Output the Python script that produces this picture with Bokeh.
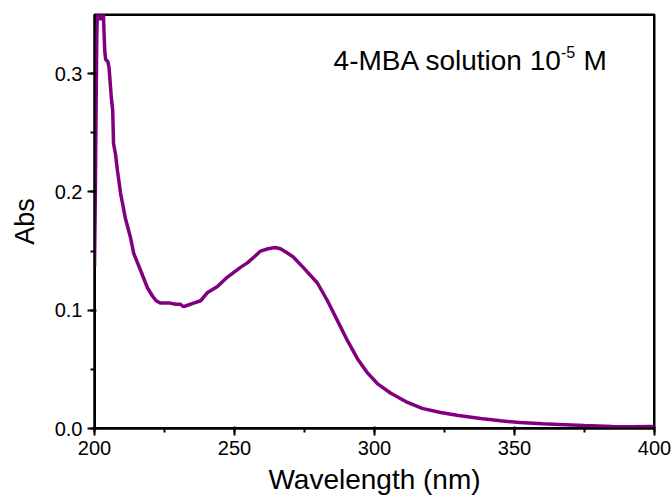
from bokeh.plotting import figure
from bokeh.models import SingleIntervalTicker, PrintfTickFormatter, Label, Range1d
from bokeh.embed import file_html
from bokeh.resources import INLINE

# ---- data ----
wavelength = [200.0, 200.3, 200.8, 201.2, 201.7, 202.1, 202.5, 203.0, 203.4, 203.7,
              204.0, 204.8, 205.2, 206.0, 206.5, 206.8, 207.5, 208.2, 209.3, 211.0,
              212.9, 214.0, 216.4, 218.9, 220.7, 222.0, 223.6, 225.0, 227.0, 229.0,
              230.7, 231.8, 233.0, 235.4, 237.9, 240.4, 243.9, 247.5, 252.0, 254.6,
              257.0, 259.3, 262.0, 264.5, 266.4, 268.5, 271.0, 274.6, 279.6, 283.2,
              286.8, 290.4, 293.9, 297.5, 301.0, 305.7, 311.8, 317.0, 323.6, 330.0,
              337.9, 345.0, 352.0, 360.0, 366.0, 375.0, 385.0, 392.0, 398.6, 400.0]
absorbance = [0.137, 0.200, 0.330, 0.370, 0.380, 0.345, 0.370, 0.365, 0.335, 0.318,
              0.312, 0.310, 0.305, 0.280, 0.269, 0.241, 0.232, 0.218, 0.199, 0.178,
              0.161, 0.148, 0.134, 0.119, 0.112, 0.108, 0.106, 0.106, 0.106, 0.105,
              0.105, 0.103, 0.104, 0.106, 0.108, 0.115, 0.120, 0.128, 0.136, 0.140,
              0.145, 0.150, 0.152, 0.153, 0.152, 0.149, 0.145, 0.136, 0.123, 0.108,
              0.091, 0.074, 0.059, 0.047, 0.038, 0.030, 0.022, 0.017, 0.0135, 0.011,
              0.0085, 0.0065, 0.005, 0.004, 0.0034, 0.0025, 0.0017, 0.0015, 0.0017, 0.0015]

x_start, x_end = 200, 400
y_start, y_end = 0.0, 0.35
x_label = "Wavelength (nm)"
y_label = "Abs"
note_main = "4-MBA solution 10"
note_sup = "-5"
note_end = "M"

p = figure(width=671, height=504,
           x_range=Range1d(x_start, x_end), y_range=Range1d(y_start, y_end),
           output_backend="svg", toolbar_location=None,
           min_border_left=94, min_border_right=17, min_border_top=14, min_border_bottom=76,
           x_axis_label=x_label, y_axis_label=y_label)
p.xgrid.grid_line_color = None
p.ygrid.grid_line_color = None
p.outline_line_color = "black"
p.outline_line_width = 2

p.xaxis.axis_line_color = "black"
p.xaxis.axis_line_width = 2
p.yaxis.axis_line_color = "black"
p.yaxis.axis_line_width = 2
p.xaxis.major_tick_line_width = 2
p.yaxis.major_tick_line_width = 2
p.xaxis.minor_tick_line_width = 2
p.yaxis.minor_tick_line_width = 2
p.xaxis.major_tick_out = 7
p.yaxis.major_tick_out = 7

p.xaxis[0].ticker = SingleIntervalTicker(interval=50, num_minor_ticks=2)
p.yaxis[0].ticker = SingleIntervalTicker(interval=0.1, num_minor_ticks=2)
p.yaxis[0].formatter = PrintfTickFormatter(format="%.1f")

p.xaxis.major_label_text_font_size = "20px"
p.yaxis.major_label_text_font_size = "20px"
p.xaxis.major_label_text_color = "black"
p.yaxis.major_label_text_color = "black"
p.xaxis.axis_label_text_font_style = "normal"
p.yaxis.axis_label_text_font_style = "normal"
p.xaxis.axis_label_text_color = "black"
p.yaxis.axis_label_text_color = "black"
p.xaxis.axis_label_text_font_size = "28px"
p.yaxis.axis_label_text_font_size = "27px"
p.xaxis.axis_label_standoff = 6
p.yaxis.axis_label_standoff = 12

# frame box drawn from the range limits (backup for the plot outline)
p.quad(left=[x_start], right=[x_end], bottom=[y_start], top=[y_end],
       fill_color=None, line_color="black", line_width=3)

p.line(wavelength, absorbance, line_color="#800080", line_width=3.5)

p.add_layout(Label(x=285.4, y=0.311, text=note_main,
                   text_font_size="28px", text_color="black",
                   text_baseline="alphabetic", text_align="left"))
p.add_layout(Label(x=366.6, y=0.3186, text=note_sup,
                   text_font_size="16px", text_color="black",
                   text_baseline="alphabetic", text_align="left"))
p.add_layout(Label(x=374.6, y=0.311, text=note_end,
                   text_font_size="28px", text_color="black",
                   text_baseline="alphabetic", text_align="left"))

open("out.html", "w").write(file_html(p, INLINE))
